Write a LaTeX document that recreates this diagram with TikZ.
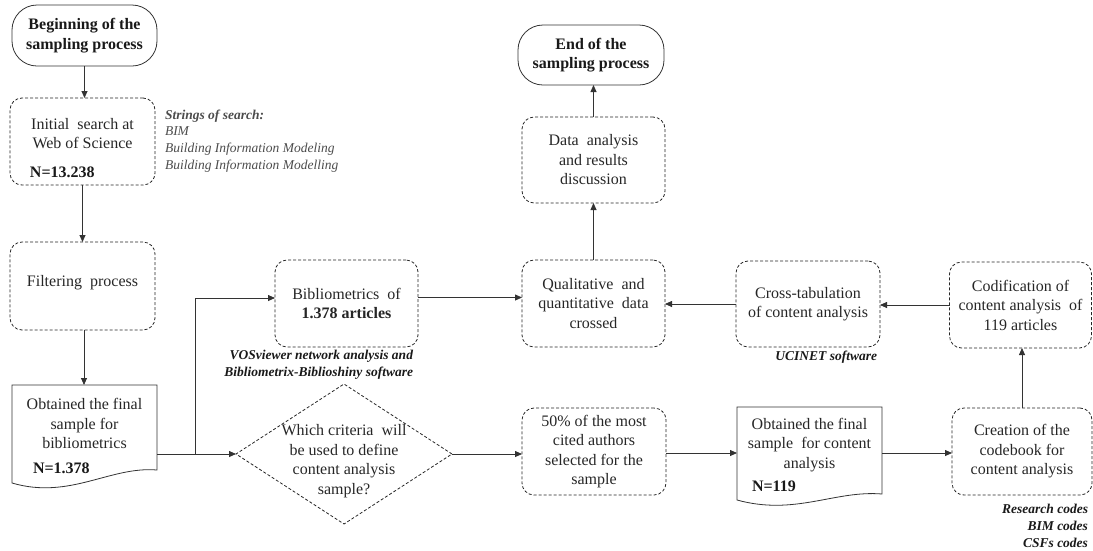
\documentclass[tikz,border=0pt]{standalone}
\usepackage{fontspec}
\setmainfont{Liberation Serif}
\usetikzlibrary{arrows.meta,shapes.geometric}

\begin{document}
\begin{tikzpicture}[x=1pt,y=-1pt,
  base/.style={inner sep=0pt, outer sep=0pt},
  body/.style={font=\fontsize{16}{19.5}\selectfont, align=center, text=black!85},
  strong/.style={font=\fontsize{16}{19.5}\selectfont\bfseries, align=center, text=black!90},
  dbox/.style={base, body, draw=black!85, line width=0.8pt, dash pattern=on 3pt off 2pt, rounded corners=12pt},
  term/.style={base, strong, draw=black!80, line width=0.8pt, rounded corners=25pt},
  docline/.style={draw=black!80, line width=0.8pt},
  note/.style={base, font=\fontsize{13.5}{16.8}\selectfont\itshape, text=black!70},
  bnote/.style={base, font=\fontsize{13.5}{16.8}\selectfont\bfseries\itshape, text=black!90},
  arr/.style={draw=black!80, line width=0.8pt, -{Triangle[length=7pt,width=6pt]}},
]
\useasboundingbox (0,0) rectangle (1093,550);

% ---- left column ----
\node[term, minimum width=145pt, minimum height=61pt] (start) at (84.5,35.5) {Beginning of the\\sampling process};

\node[dbox, minimum width=145pt, minimum height=87pt] (init) at (82.5,141.5) {};
\node[base, body] (initT) at (82.5,133.5) {Initial\ \ search at\\Web of Science};
\node[base, strong, anchor=west] (initN) at (30,172) {N=13.238};

\node[note, anchor=west, align=left] (strings) at (165,141)
  {\textbf{Strings of search:}\\BIM\\Building Information Modeling\\Building Information Modelling};

\node[dbox, minimum width=145pt, minimum height=88pt] (filter) at (82.5,286) {};
\node[base, body] (filterT) at (82.5,283) {Filtering\ \ process};

% document shape: final bibliometric sample
\draw[docline] (12,385) -- (157,385) -- (157,470)
  .. controls (110,466) and (70,500) .. (12,483) -- cycle;
\coordinate (doc1top) at (84,385);
\coordinate (doc1r) at (157,454);
\node[base, body] (doc1T) at (84.5,423.5) {Obtained the final\\sample for\\bibliometrics};
\node[base, strong, anchor=west] (doc1N) at (33,468) {N=1.378};

% ---- bibliometrics branch ----
\node[dbox, minimum width=143pt, minimum height=87pt] (bib) at (346.5,303.5) {Bibliometrics\ \ of\\\textbf{1.378 articles}};
\node[bnote, anchor=east, align=right] (vos) at (413,364.5)
  {VOSviewer network analysis and\\Bibliometrix-Biblioshiny software};

% decision
\node[base, diamond, draw=black!85, line width=0.8pt, dash pattern=on 3pt off 2pt,
  minimum width=216pt, minimum height=140pt] (dia) at (344,454) {};
\node[base, body] (diaT) at (344,461) {Which criteria\ \ will\\be used to define\\content analysis\\sample?};

% ---- middle column ----
\node[term, minimum width=146pt, minimum height=60pt] (end) at (591,55) {End of the\\sampling process};
\node[dbox, minimum width=143pt, minimum height=86pt] (data) at (593.5,160) {Data\ \ analysis\\and results\\discussion};
\node[dbox, minimum width=143pt, minimum height=87pt] (qual) at (593.5,303.5) {Qualitative\ \ and\\quantitative\ \ data\\crossed};
\node[dbox, minimum width=144pt, minimum height=87pt] (fifty) at (594,451.5) {50\% of the most\\cited authors\\selected for the\\sample};

% ---- right columns ----
\node[dbox, minimum width=144pt, minimum height=86pt] (cross) at (808,304) {Cross-tabulation\\of content analysis};
\node[bnote, anchor=east] (ucinet) at (877,357) {UCINET software};

\node[dbox, minimum width=142pt, minimum height=86pt] (codif) at (1020.5,305) {Codification of\\content analysis\ \ of\\119 articles};
\node[dbox, minimum width=140pt, minimum height=87pt] (create) at (1022,451.5) {Creation of the\\codebook for\\content analysis};
\node[bnote, anchor=east, align=right] (codes) at (1088,526)
  {Research codes\\BIM codes\\CSFs codes};

% document shape: final content-analysis sample
\draw[docline] (737,407) -- (882,407) -- (882,494)
  .. controls (835,490) and (795,516) .. (737,500) -- cycle;
\coordinate (doc2l) at (737,453);
\coordinate (doc2r) at (882,453);
\node[base, body] (doc2T) at (809.5,445) {Obtained the final\\sample\ \ for content\\analysis};
\node[base, strong, anchor=west] (doc2N) at (752,486) {N=119};

% ---- connectors ----
\draw[arr] (start.south) -- (start.south |- init.north);
\draw[arr] (init.south) -- (filter.north);
\draw[arr] (filter.south -| doc1top) -- (doc1top);
\coordinate (split) at (195,454);
\draw[arr] (doc1r) -- (dia.west);
\draw[arr] (split) |- ([yshift=5.5pt]bib.west);
\draw[arr] ([yshift=6pt]bib.east) -- ([yshift=6pt]qual.west);
\draw[arr] (dia.east) -- (dia.east -| fifty.west);
\draw[arr] (fifty.east |- doc2l) -- (doc2l);
\draw[arr] (doc2r) -- (doc2r -| create.west);
\draw[arr] (create.north) -- (create.north |- codif.south);
\draw[arr] (codif.west) -- (codif.west -| cross.east);
\draw[arr] (cross.west) -- (cross.west -| qual.east);
\draw[arr] (qual.north) -- (data.south);
\draw[arr] (data.north) -- (data.north |- end.south);
\end{tikzpicture}
\end{document}
